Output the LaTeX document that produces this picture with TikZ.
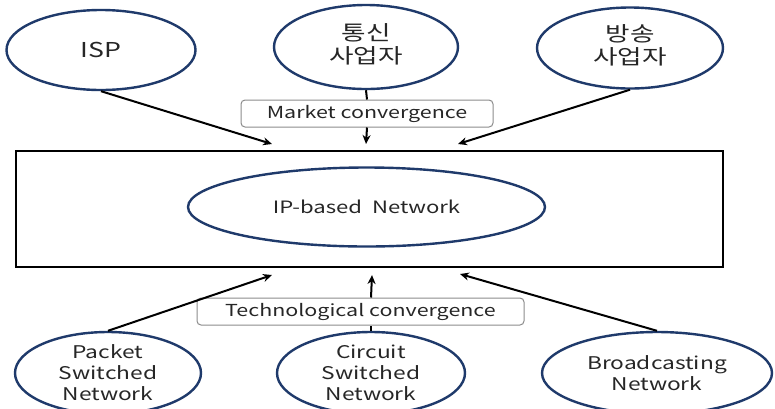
\documentclass[tikz,border=0pt]{standalone}
\usepackage{fontspec}
\setmainfont[FakeStretch=1.3]{Noto Sans CJK KR}
\usetikzlibrary{shapes.geometric,arrows.meta}
\definecolor{navy}{HTML}{1F3A6B}
\definecolor{boxgray}{HTML}{8C8C8C}
\newcommand{\twoline}[2]{\raisebox{-6pt}{\begin{tabular}{@{}c@{}}#1\\[-1pt]#2\end{tabular}}}
\tikzset{
  oval/.style={ellipse, draw=navy, line width=2.4pt, inner sep=0pt, align=center, text=black!85},
  topfont/.style={font=\fontsize{20.5}{23}\selectfont},
  botfont/.style={font=\fontsize{17.5}{21}\selectfont},
  tag/.style={draw=boxgray, line width=1pt, rounded corners=4pt, fill=white, inner sep=0pt,
    font=\fontsize{16.5}{19}\selectfont, text=black!85},
  arr/.style={line width=2pt, -{Stealth[length=9pt,width=8pt]}},
  conn/.style={line width=2pt},
}
\begin{document}
\begin{tikzpicture}[x=1pt,y=-1pt]
\clip (0,0) rectangle (775,408);
\fill[white] (0,0) rectangle (775,408);
% top ovals
\node[oval, topfont, minimum width=189pt, minimum height=80pt] (isp) at (101,50) {ISP};
\node[oval, topfont, minimum width=184pt, minimum height=84pt] (tel) at (366,47) {\twoline{통신}{사업자}};
\node[oval, topfont, minimum width=186pt, minimum height=81pt] (bc) at (630,48) {\twoline{방송}{사업자}};
% market box
\node[tag, minimum width=252pt, minimum height=27pt] (mkt) at (367,113.5) {Market convergence};
% main rectangle
\node[draw=black, line width=2.5pt, minimum width=707pt, minimum height=116pt, inner sep=0pt] (main) at (369.5,209) {};
\node[oval, font=\fontsize{17}{20}\selectfont, minimum width=357pt, minimum height=79pt] (ip) at (366.5,207) {IP-based\ \ Network};
% arrow end points on the main rectangle
\coordinate (mt1) at (272,144);
\coordinate (mt2) at (366,144);
\coordinate (mt3) at (458,144);
\coordinate (mb1) at (272,275);
\coordinate (mb2) at (372,275);
\coordinate (mb3) at (460,274);
% tech box
\node[tag, minimum width=327pt, minimum height=27pt] (tech) at (360.5,311.5) {Technological convergence};
% bottom ovals
\node[oval, botfont, minimum width=186pt, minimum height=82pt] (pkt) at (108,373) {Packet\\Switched\\Network};
\node[oval, botfont, minimum width=188pt, minimum height=82pt] (cir) at (371,373) {Circuit\\Switched\\Network};
\node[oval, botfont, minimum width=230pt, minimum height=82pt] (bnet) at (657,373) {Broadcasting\\Network};
% connectors
\draw[arr] (isp.south) -- (mt1);
\draw[arr] (bc.south) -- (mt3);
\draw[conn] (tel.south) -- (mkt.north);
\draw[arr] (mkt.south) -- (mt2);
\draw[arr] (pkt.north) -- (mb1);
\draw[arr] (bnet.north) -- (mb3);
\draw[conn] (cir.north) -- (cir.north |- tech.south);
\draw[arr] (cir.north |- tech.north) -- (mb2);
\end{tikzpicture}
\end{document}
